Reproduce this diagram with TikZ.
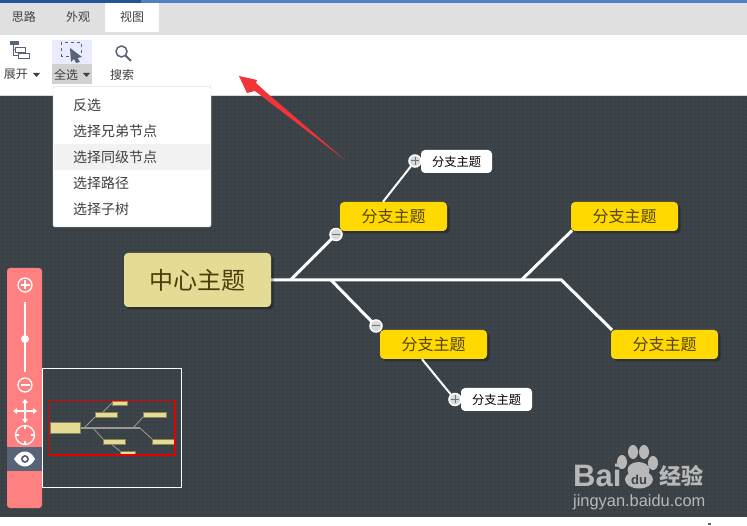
\documentclass[tikz,border=0pt]{standalone}
\usepackage{fontspec}
\setmainfont{Noto Sans CJK SC}
\newfontfamily\latinfont{Liberation Sans}
\usetikzlibrary{positioning,shadows,patterns.meta}
\definecolor{bgclr}{rgb}{0.235, 0.265, 0.285}
\definecolor{dotclr}{rgb}{0.18, 0.205, 0.225}
\definecolor{rootclr}{rgb}{0.90, 0.86, 0.58}
\definecolor{mainclr}{rgb}{1.0, 0.85, 0.0}
\definecolor{panelclr}{rgb}{1.0, 0.50, 0.50}
\definecolor{eyeclr}{rgb}{0.35, 0.39, 0.47}
\definecolor{tabclr}{rgb}{0.88, 0.88, 0.88}
\definecolor{arrowclr}{rgb}{0.95, 0.2, 0.22}
\definecolor{txtclr}{rgb}{0.25, 0.25, 0.25}
\definecolor{logoclr}{rgb}{0.72, 0.72, 0.72}
\definecolor{roottxt}{rgb}{0.30, 0.24, 0.05}
\definecolor{maintxt}{rgb}{0.33, 0.27, 0.04}
\definecolor{barleft}{rgb}{0.15, 0.33, 0.60}
\definecolor{barright}{rgb}{0.30, 0.50, 0.78}
\tikzset{ %
  ,>=latex
  ,x=1pt,y=-1pt
  ,every node/.style={inner sep=0, text=txtclr}
  ,tab/.style={font=\fontsize{12}{12}\selectfont}
  ,tool/.style={font=\fontsize{12}{12}\selectfont}
  ,menuitem/.style={anchor=west, font=\fontsize{14}{14}\selectfont}
  ,softshadow/.style={drop shadow={shadow xshift=2.5pt, shadow yshift=-2.5pt, opacity=0.3, fill=black}}
  ,root/.style={fill=rootclr, rounded corners=4pt, minimum width=147pt, minimum height=54pt, font=\fontsize{24}{24}\selectfont, text=roottxt, softshadow}
  ,mainnode/.style={fill=mainclr, rounded corners=4pt, minimum width=107pt, minimum height=29pt, font=\fontsize{16}{16}\selectfont, text=maintxt, softshadow}
  ,subnode/.style={fill=white, rounded corners=4pt, minimum width=71pt, minimum height=23pt, font=\fontsize{12.25}{12.25}\selectfont, text=black}
  ,link/.style={draw=white, line width=3pt}
  ,thinlink/.style={draw=white, line width=2pt}
  ,toggle/.style={draw=white, line width=1.5pt, fill=white!85!black, circle, minimum size=12pt}
  ,icon/.style={draw=white, line width=1.3pt, circle}
  ,mini/.style={fill=rootclr, draw=black!40!rootclr, line width=0.5pt}
  ,miniline/.style={draw=white!60!black, line width=0.8pt}
}
\begin{document}
\begin{tikzpicture}
  \useasboundingbox (0,0) rectangle (747,526);
  % page and toolbar
  \fill[bgclr] (0,95) rectangle (747,517);
  \fill[pattern={Dots[distance=4pt, radius=0.7pt]}, pattern color=dotclr] (0,95) rectangle (747,517);
  \fill[white] (0,35) rectangle (747,95);
  \fill[white] (0,517) rectangle (747,526);
  \draw[black!15,line width=1pt] (0,95.5) -- (747,95.5);
  \fill[black!60] (708,525) rectangle (711,523);
  \fill[tabclr] (0,3) rectangle (747,35);
  \fill[barleft] (0,0) rectangle (141,3);
  \fill[barright] (141,0) rectangle (747,3);
  \fill[white] (105,3) rectangle (159,32);
  \node[tab] (think) at (24,17) {思路};
  \node[tab] (look) at (78,17) {外观};
  \node[tab] (view) at (132,17) {视图};
  % tool buttons
  \fill[blue!8] (52,40) rectangle (92,64);
  \fill[black!18] (52,64) rectangle (92,84);
  \node[tool] (expand) at (16,74.5) {展开};
  \node[tool] (selall) at (66,74.5) {全选};
  \node[tool] (search) at (122,74.5) {搜索};
  \fill[txtclr] (33,73) -- (40,73) -- (36.5,77) -- cycle;
  \fill[txtclr] (83,73) -- (90,73) -- (86.5,77) -- cycle;
  % expand icon
  \fill[eyeclr] (10,41) rectangle (19,45);
  \draw[eyeclr,line width=0.8pt] (13,45) |- (15,49.5) (13,45) |- (18,55.5);
  \draw[eyeclr,line width=0.8pt] (15,47) rectangle (25,52) (18,53) rectangle (29,58);
  % select icon
  \draw[eyeclr,dashed,line width=0.9pt] (61,42.5) rectangle (81,56);
  \fill[eyeclr] (70,48) -- (82,57) -- (77.5,58) -- (80,62) -- (76,63) -- (74,59) -- (71,62) -- cycle;
  % search icon
  \draw[eyeclr,line width=1.5pt] (121.5,51.5) circle (5.5);
  \draw[eyeclr,line width=2pt] (125.5,55.5) -- (131,61);
  % menu
  \draw[black!20,fill=white,rounded corners=2pt] (53,86.5) rectangle (211,227);
  \fill[black!5] (54,144) rectangle (210,170);
  \node[menuitem] (inv) at (73,105) {反选};
  \node[menuitem] (sib) at (73,131) {选择兄弟节点};
  \node[menuitem] (lvl) at (73,157) {选择同级节点};
  \node[menuitem] (pth) at (73,183) {选择路径};
  \node[menuitem] (tre) at (73,209) {选择子树};
  % red arrow
  \fill[arrowclr] (239,76) -- (257,80) -- (256,83) -- (267,93) -- (345,160) -- (255,91) -- (247,93) -- cycle;
  % map
  \coordinate (spine) at (561.5,280);
  \coordinate (forkb) at (521.5,280);
  \coordinate (forka) at (290.5,280);
  \coordinate (forkc) at (331,280);
  \coordinate (endb) at (572,230.5);
  \coordinate (endd) at (612,330);
  \coordinate (ctr) at (271,280);
  \coordinate (taend) at (336,234.5);
  \coordinate (tcend) at (376,326);
  \draw[link] (ctr) -- (spine) -- (endd);
  \draw[link] (forkb) -- (endb);
  \draw[link] (forka) -- (taend);
  \draw[link] (forkc) -- (tcend);
  \node[root] (center) at (197.5,280) {中心主题};
  \node[mainnode] (ma) at (393.5,216.5) {分支主题};
  \node[mainnode] (mb) at (624.5,216.5) {分支主题};
  \node[mainnode] (mc) at (433.5,344.5) {分支主题};
  \node[mainnode] (md) at (664.5,344.5) {分支主题};
  \node[subnode] (sa) at (456.5,161.5) {分支主题};
  \node[subnode] (sb) at (496.5,399.5) {分支主题};
  \node[toggle] (ta) at (336,234.5) {};
  \node[toggle] (tb) at (415,161) {};
  \node[toggle] (tc) at (376,326) {};
  \node[toggle] (td) at (455,399.5) {};
  \draw[thinlink] ([xshift=-10.5pt]ma.north) -- (tb);
  \draw[thinlink] ([xshift=-11.5pt]mc.south) -- (td);
  \foreach \n in {ta,tc,tb,td}{
    \draw[black!55,line width=1pt] ([xshift=-4pt]\n.center) -- ([xshift=4pt]\n.center);
  }
  \foreach \n in {tb,td}{
    \draw[black!55,line width=1pt] ([yshift=-4pt]\n.center) -- ([yshift=4pt]\n.center);
  }
  % side panel
  \fill[panelclr,rounded corners=3pt] (7,268) rectangle (42,508);
  \fill[eyeclr] (7,447) rectangle (42,471);
  \node[icon,minimum size=14pt] (zin) at (25,285) {};
  \node[icon,minimum size=14pt] (zout) at (25,385) {};
  \draw[white,line width=1.2pt] (20.5,285) -- (29.5,285) (25,280.5) -- (25,289.5) (20.5,385) -- (29.5,385);
  \coordinate (slidetop) at (25,302);
  \coordinate (slidebot) at (25,372);
  \draw[white,line width=1.5pt] (slidetop) -- (slidebot);
  \fill[white] (25,339) circle (4);
  \draw[white,line width=1.1pt] (15,411) -- (35,411) (25,401) -- (25,421);
  \fill[white] (13,411) -- (17,408) -- (17,414) -- cycle (37,411) -- (33,408) -- (33,414) -- cycle
    (25,399) -- (22,403) -- (28,403) -- cycle (25,423) -- (22,419) -- (28,419) -- cycle;
  \node[icon,minimum size=19pt] (fit) at (25,435) {};
  \draw[white,line width=1.1pt] (25,425) -- (25,429) (25,441) -- (25,445) (15,435) -- (19,435) (31,435) -- (35,435);
  \fill[white] (14,459) .. controls (20,449) and (30,449) .. (35,459) .. controls (30,469) and (20,469) .. (14,459) -- cycle;
  \fill[eyeclr] (25,459) circle (4);
  \fill[white] (25,459) circle (2);
  % overview
  \draw[white,line width=0.8pt] (42,368.5) rectangle (181.5,487.5);
  \draw[miniline,line width=1.5pt] (80,428) -- (140,428);
  \draw[miniline] (84,428) -- (95,417) (93,428) -- (103,439) (133,428) -- (143,417) (140,428) -- (152,439)
    (103,412) -- (112,403) (111,444) -- (120,451);
  \foreach \x/\y/\w/\h in {50/422/30/11,95/412/22/5,112/401/15/4,143/412/23/5,103/439/22/5,120/451/15/4,152/439/22/5}{
    \draw[mini] (\x,\y) rectangle ++(\w,\h);
  }
  \draw[red!90!black,line width=1.1pt] (49.5,400.5) rectangle (175,455);
  % watermark
  \node[font=\latinfont\bfseries\fontsize{31}{31}\selectfont, text=logoclr, anchor=base west] (baidu) at (573,486) {Bai};
  \fill[logoclr] (638.5,470) ellipse (11 and 8) (639,479.5) ellipse (14 and 9)
    (622,462) ellipse (5 and 7) (633,452) ellipse (5 and 7) (644,452) ellipse (5 and 7) (653,463) ellipse (5 and 7);
  \node[font=\latinfont\bfseries\fontsize{13}{13}\selectfont, text=bgclr] (du) at (639,480) {du};
  \node[font=\bfseries\fontsize{22}{22}\selectfont, text=logoclr, anchor=west] (jy) at (659,476) {经验};
  \node[font=\latinfont\fontsize{16.4}{16.4}\selectfont, text=logoclr, anchor=base west] (url) at (573,506) {jingyan.baidu.com};
\end{tikzpicture}
\end{document}
